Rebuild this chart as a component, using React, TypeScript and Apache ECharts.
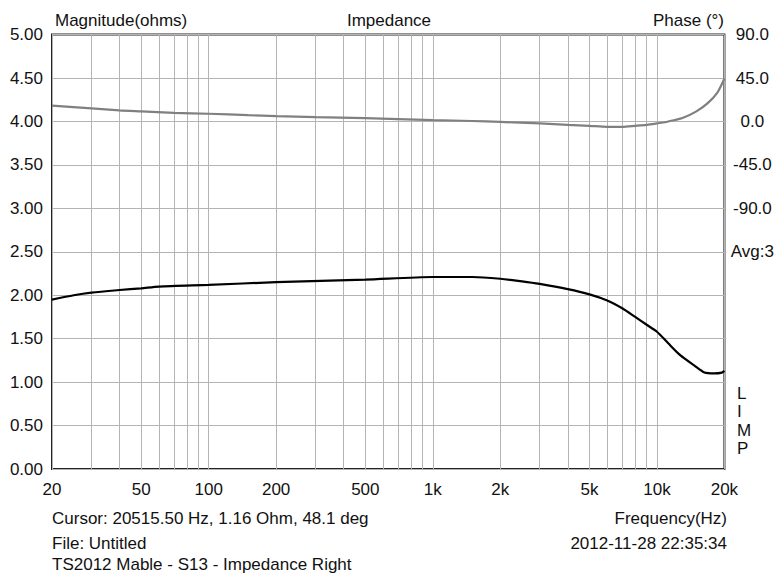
import React, { useEffect, useRef } from "react";
import * as echarts from "echarts";

const freqGrid = [20, 30, 40, 50, 60, 70, 80, 90, 100, 200, 300, 400, 500, 600, 700, 800, 900, 1000, 2000, 3000, 4000, 5000, 6000, 7000, 8000, 9000, 10000, 20000];
const freqLabels = [20, 50, 100, 200, 500, 1000, 2000, 5000, 10000, 20000];
const freqLabelText = ["20", "50", "100", "200", "500", "1k", "2k", "5k", "10k", "20k"];

const magFreq = [20, 25, 30, 40, 50, 60, 100, 200, 500, 1000, 1500, 2000, 2500, 3000, 4000, 5000, 6000, 7000, 8000, 9000, 10000, 11200, 12700, 14700, 16300, 18000, 19500, 20000];
const magOhm = [1.95, 2.0, 2.03, 2.06, 2.08, 2.1, 2.12, 2.15, 2.18, 2.21, 2.21, 2.19, 2.16, 2.13, 2.07, 2.01, 1.94, 1.85, 1.75, 1.66, 1.58, 1.45, 1.31, 1.19, 1.11, 1.1, 1.11, 1.13];

const phaseFreq = [20, 30, 40, 50, 70, 100, 150, 200, 300, 500, 700, 1000, 1500, 2000, 3000, 4000, 5000, 6000, 7000, 8000, 9000, 10000, 11000, 12000, 13000, 15000, 16800, 18600, 20000];
const phaseDeg = [16.5, 13.5, 11.5, 10.5, 9, 8, 6.5, 5.5, 4.5, 3.5, 2.5, 1.5, 0.5, -0.5, -2, -3.5, -4.5, -5.5, -5.5, -4.5, -3.5, -2, -0.5, 1.5, 3.5, 10.5, 18.7, 30, 44.6];

const FONT = "'Liberation Sans', Arial, sans-serif";

export default function App() {
  const ref = useRef<HTMLDivElement>(null);
  useEffect(() => {
    document.body.style.margin = "0";
    const chart = echarts.init(ref.current!, null, { renderer: "svg" });
    const txt = (x: number, y: number, text: string, align: string = "left", extra: any = {}) => ({
      type: "text",
      x,
      y,
      style: { text, fill: "#111", font: `17px ${FONT}`, textAlign: align, textVerticalAlign: "middle", ...extra },
    });
    chart.setOption({
      animation: false,
      backgroundColor: "#fff",
      grid: { left: 52, right: 50, top: 34.6, bottom: 105, show: true, borderColor: "#222", borderWidth: 2, backgroundColor: "transparent" },
      xAxis: {
        type: "log",
        logBase: 10,
        min: 20,
        max: 20000,
        axisLine: { show: false },
        axisTick: { show: false, customValues: freqGrid },
        splitLine: { show: true, lineStyle: { color: "#b4b4b4", width: 1 } },
        axisLabel: {
          customValues: freqLabels,
          margin: 12,
          color: "#111",
          fontSize: 17,
          fontFamily: FONT,
          formatter: (v: number) => {
            const i = freqLabels.findIndex((f) => Math.abs(f - v) / f < 0.01);
            return i >= 0 ? freqLabelText[i] : "";
          },
        },
      },
      yAxis: [
        {
          type: "value",
          min: 0,
          max: 5,
          interval: 0.5,
          axisLine: { show: false },
          axisTick: { show: false },
          splitLine: { show: true, lineStyle: { color: "#b4b4b4", width: 1 } },
          axisLabel: { margin: 9, color: "#111", fontSize: 17, fontFamily: FONT, formatter: (v: number) => v.toFixed(2) },
        },
        {
          type: "value",
          min: -360,
          max: 90,
          interval: 45,
          position: "right",
          axisLine: { show: false },
          axisTick: { show: false },
          splitLine: { show: false },
          axisLabel: {
            margin: 28,
            align: "center",
            color: "#111",
            fontSize: 17,
            fontFamily: FONT,
            formatter: (v: number) => (v >= -90 ? v.toFixed(1) : v === -135 ? "Avg:3" : ""),
          },
        },
      ],
      series: [
        {
          type: "line",
          yAxisIndex: 1,
          showSymbol: false,
          smooth: 0.25,
          data: phaseFreq.map((f, i) => [f, phaseDeg[i]]),
          lineStyle: { color: "#808080", width: 2.2 },
        },
        {
          type: "line",
          yAxisIndex: 0,
          showSymbol: false,
          smooth: 0.25,
          data: magFreq.map((f, i) => [f, magOhm[i]]),
          lineStyle: { color: "#000", width: 2.2 },
        },
      ],
      graphic: [
        txt(55, 20, "Magnitude(ohms)"),
        txt(389, 20, "Impedance", "center"),
        txt(724, 20, "Phase (°)", "right"),
        txt(737, 384, "L\nI\nM\nP", "left", { textVerticalAlign: "top", lineHeight: 18.5 }),
        txt(52, 518, "Cursor: 20515.50 Hz, 1.16 Ohm, 48.1 deg"),
        txt(52, 543, "File: Untitled"),
        txt(52, 564, "TS2012 Mable - S13 - Impedance Right"),
        txt(727, 518, "Frequency(Hz)", "right"),
        txt(727, 543, "2012-11-28 22:35:34", "right"),
      ],
    });
    return () => chart.dispose();
  }, []);
  return <div ref={ref} style={{ width: 777, height: 574 }} />;
}
